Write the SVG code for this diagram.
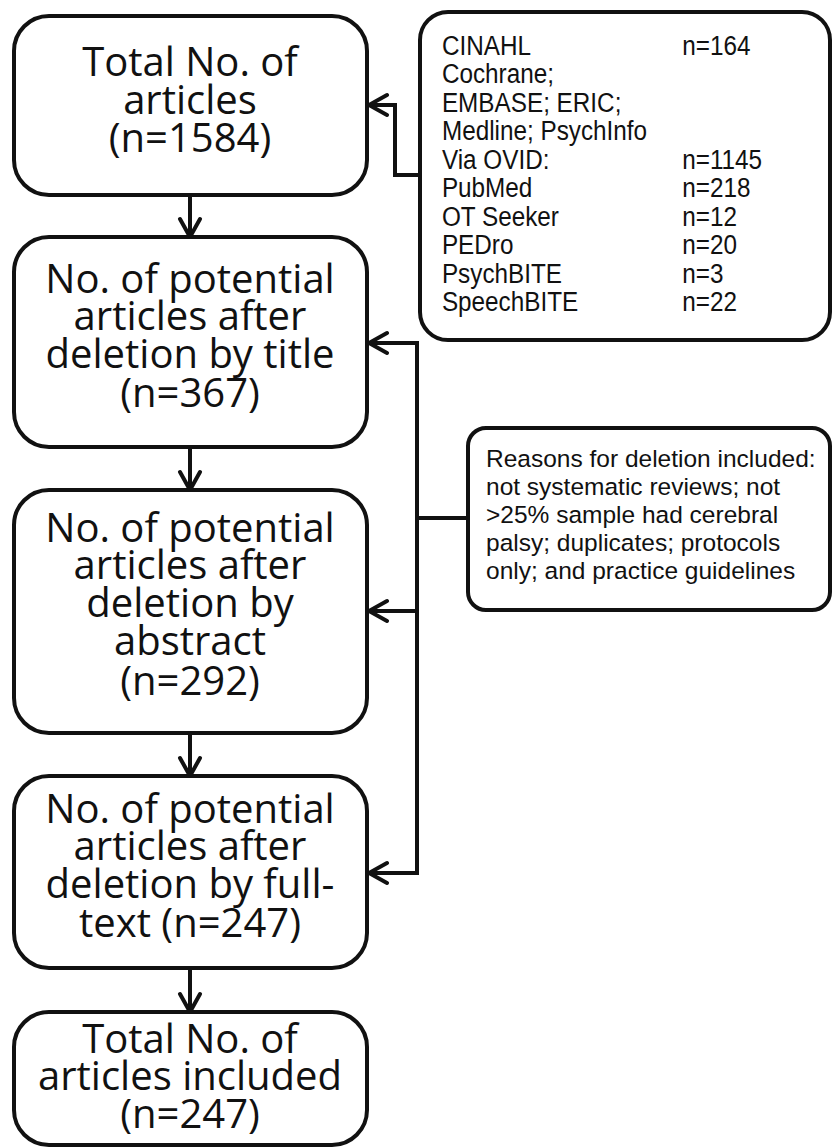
<svg xmlns="http://www.w3.org/2000/svg" width="832" height="1148" viewBox="0 0 832 1148">
<style>
.box{fill:#fff;stroke:#111;stroke-width:4}
.main{font-family:"Open Sans","DejaVu Sans",sans-serif;font-size:40px;fill:#111;text-anchor:middle}
.side{font-family:"Liberation Sans",Arial,sans-serif;font-size:24.5px;fill:#111}
.src{font-family:"Liberation Sans",Arial,sans-serif;font-size:27px;fill:#111}
.conn{fill:none;stroke:#111;stroke-width:4;stroke-linejoin:miter}
</style>
<defs>
<marker id="arr" markerUnits="userSpaceOnUse" markerWidth="26" markerHeight="26" viewBox="0 0 26 26" refX="22" refY="13" orient="auto">
<path d="M4,3 L22,13 L4,23" fill="none" stroke="#111" stroke-width="4" stroke-linecap="round" stroke-linejoin="miter"/>
</marker>
</defs>
<rect width="832" height="1148" fill="#fff"/>
<g id="connectors">
<path class="conn" d="M190,195 V237" marker-end="url(#arr)"/>
<path class="conn" d="M190,447 V490" marker-end="url(#arr)"/>
<path class="conn" d="M190,733 V776" marker-end="url(#arr)"/>
<path class="conn" d="M190,968 V1012" marker-end="url(#arr)"/>
<path class="conn" d="M420,175 H395 V105 H369" marker-end="url(#arr)"/>
<path class="conn" d="M417,518 V343 H369" marker-end="url(#arr)"/>
<path class="conn" d="M417,611 H369" marker-end="url(#arr)"/>
<path class="conn" d="M468,518 H417 V873 H369" marker-end="url(#arr)"/>
</g>
<g id="n1">
<rect class="box" x="14" y="16" width="353" height="179" rx="35"/>
<text class="main" x="190" y="76">Total No. of</text>
<text class="main" x="190" y="114">articles</text>
<text class="main" x="190" y="152">(n=1584)</text>
</g>
<g id="n2">
<rect class="box" x="14" y="237" width="353" height="210" rx="35"/>
<text class="main" x="190" y="293">No. of potential</text>
<text class="main" x="190" y="330">articles after</text>
<text class="main" x="190" y="368">deletion by title</text>
<text class="main" x="190" y="407">(n=367)</text>
</g>
<g id="n3">
<rect class="box" x="14" y="490" width="353" height="243" rx="35"/>
<text class="main" x="190" y="542">No. of potential</text>
<text class="main" x="190" y="579">articles after</text>
<text class="main" x="190" y="617">deletion by</text>
<text class="main" x="190" y="655">abstract</text>
<text class="main" x="190" y="695">(n=292)</text>
</g>
<g id="n4">
<rect class="box" x="14" y="776" width="353" height="192" rx="35"/>
<text class="main" x="190" y="823">No. of potential</text>
<text class="main" x="190" y="860">articles after</text>
<text class="main" x="190" y="898">deletion by full-</text>
<text class="main" x="190" y="937">text (n=247)</text>
</g>
<g id="n5">
<rect class="box" x="14" y="1012" width="353" height="133" rx="35"/>
<text class="main" x="190" y="1053">Total No. of</text>
<text class="main" x="190" y="1090">articles included</text>
<text class="main" x="190" y="1128">(n=247)</text>
</g>
<g id="sources">
<rect class="box" x="420" y="12" width="410" height="328" rx="28"/>
<g transform="scale(0.9,1)">
<text class="src" x="491" y="55">CINAHL</text>
<text class="src" x="758" y="55">n=164</text>
<text class="src" x="491" y="83.5">Cochrane;</text>
<text class="src" x="491" y="112">EMBASE; ERIC;</text>
<text class="src" x="491" y="140.5">Medline; PsychInfo</text>
<text class="src" x="491" y="169">Via OVID:</text>
<text class="src" x="758" y="169">n=1145</text>
<text class="src" x="491" y="197.5">PubMed</text>
<text class="src" x="758" y="197.5">n=218</text>
<text class="src" x="491" y="226">OT Seeker</text>
<text class="src" x="758" y="226">n=12</text>
<text class="src" x="491" y="254.5">PEDro</text>
<text class="src" x="758" y="254.5">n=20</text>
<text class="src" x="491" y="283">PsychBITE</text>
<text class="src" x="758" y="283">n=3</text>
<text class="src" x="491" y="311.5">SpeechBITE</text>
<text class="src" x="758" y="311.5">n=22</text>
</g>
</g>
<g id="reasons">
<rect class="box" x="468" y="428" width="362" height="182" rx="18"/>
<text class="side" x="486" y="467">Reasons for deletion included:</text>
<text class="side" x="486" y="495">not systematic reviews; not</text>
<text class="side" x="486" y="523">&gt;25% sample had cerebral</text>
<text class="side" x="486" y="551">palsy; duplicates; protocols</text>
<text class="side" x="486" y="579">only; and practice guidelines</text>
</g>
</svg>
